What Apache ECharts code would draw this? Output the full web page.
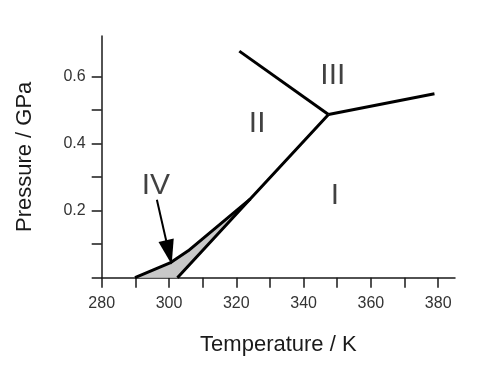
<!DOCTYPE html>
<html>
<head>
<meta charset="utf-8">
<script src="https://cdn.jsdelivr.net/npm/echarts@6/dist/echarts.min.js"></script>
<style>
html,body{margin:0;padding:0;background:#fff;}
#chart{width:495px;height:370px;}
</style>
</head>
<body>
<div id="chart"></div>
<script>
// ---- data (T in K, P in GPa) ----
var xTicks = [280, 290, 300, 310, 320, 330, 340, 350, 360, 370, 380];
var xLabels = [280, 300, 320, 340, 360, 380];
var yTicks = [0, 0.1, 0.2, 0.3, 0.4, 0.5, 0.6];
var yLabels = [0.2, 0.4, 0.6];

var tripleT = 347.4, tripleP = 0.486;
var lineIV_II = [[289.9, 0], [300.3, 0.044], [305.7, 0.08], [324.2, 0.235]];
var lineI_II = [[302.5, 0], [324.2, 0.235], [tripleT, tripleP]];
var lineII_III = [[320.9, 0.675], [tripleT, tripleP]];
var lineI_III = [[tripleT, tripleP], [378.9, 0.548]];
var regionIV = [[289.9, 0], [300.3, 0.044], [305.7, 0.08], [324.2, 0.235], [302.5, 0]];
var arrowStart = [296.4, 0.232];
var arrowTip = [300.8, 0.039];
var phaseLabels = [
  {name: 'III', value: [348.7, 0.602]},
  {name: 'II', value: [326.2, 0.46]},
  {name: 'I', value: [349.3, 0.244]},
  {name: 'IV', value: [296.1, 0.274]}
];

var FONT = 'Liberation Sans, Arial, Helvetica, sans-serif';
var chart = echarts.init(document.getElementById('chart'));

function boundary(data) {
  return {
    type: 'line', data: data, symbol: 'none', silent: true, z: 5,
    lineStyle: {color: '#000', width: 3, join: 'round'}
  };
}

chart.setOption({
  animation: false,
  backgroundColor: '#fff',
  grid: {left: 101.7, right: 40, top: 36, bottom: 92.3},
  xAxis: {
    type: 'value', min: 280, max: 385,
    name: 'Temperature / K', nameLocation: 'middle', nameGap: 56,
    nameTextStyle: {fontFamily: FONT, fontSize: 22, color: '#1a1a1a'},
    axisLine: {show: true, lineStyle: {color: '#1a1a1a', width: 1.5}},
    axisTick: {show: true, length: 10, customValues: xTicks, lineStyle: {color: '#1a1a1a', width: 1.5}},
    axisLabel: {customValues: xLabels, margin: 18, fontFamily: FONT, fontSize: 16, color: '#333'},
    splitLine: {show: false}
  },
  yAxis: {
    type: 'value', min: 0, max: 0.72,
    name: 'Pressure / GPa', nameLocation: 'middle', nameGap: 66,
    nameTextStyle: {fontFamily: FONT, fontSize: 22, color: '#1a1a1a'},
    axisLine: {show: true, lineStyle: {color: '#1a1a1a', width: 1.5}},
    axisTick: {show: true, length: 10, customValues: yTicks, lineStyle: {color: '#1a1a1a', width: 1.5}},
    axisLabel: {customValues: yLabels, margin: 16, fontFamily: FONT, fontSize: 16, color: '#333',
      formatter: function (v) { return v.toFixed(1); }},
    splitLine: {show: false}
  },
  series: [
    {
      type: 'custom', data: regionIV, silent: true, z: 2,
      renderItem: function (params, api) {
        if (params.dataIndex !== 0) return null;
        var pts = regionIV.map(function (p) { return api.coord(p); });
        return {type: 'polygon', shape: {points: pts}, style: {fill: '#c8c8c8'}};
      }
    },
    boundary(lineIV_II),
    boundary(lineI_II),
    boundary(lineII_III),
    boundary(lineI_III),
    {
      type: 'custom', data: [arrowStart, arrowTip], silent: true, z: 6,
      renderItem: function (params, api) {
        if (params.dataIndex !== 0) return null;
        var a = api.coord(arrowStart), b = api.coord(arrowTip);
        var dx = b[0] - a[0], dy = b[1] - a[1], L = Math.sqrt(dx * dx + dy * dy);
        var ux = dx / L, uy = dy / L, hl = 25, hw = 7.8;
        var bx = b[0] - ux * hl, by = b[1] - uy * hl;
        return {type: 'group', children: [
          {type: 'line', shape: {x1: a[0], y1: a[1], x2: bx + ux * 2, y2: by + uy * 2}, style: {stroke: '#000', lineWidth: 2}},
          {type: 'polygon', shape: {points: [[b[0], b[1]], [bx - uy * hw, by + ux * hw], [bx + uy * hw, by - ux * hw]]}, style: {fill: '#000'}}
        ]};
      }
    },
    {
      type: 'scatter', data: phaseLabels, symbolSize: 0, silent: true, z: 7,
      label: {show: true, position: 'inside', formatter: '{b}', fontFamily: FONT, fontSize: 30, color: '#111'}
    }
  ]
});
</script>
</body>
</html>
